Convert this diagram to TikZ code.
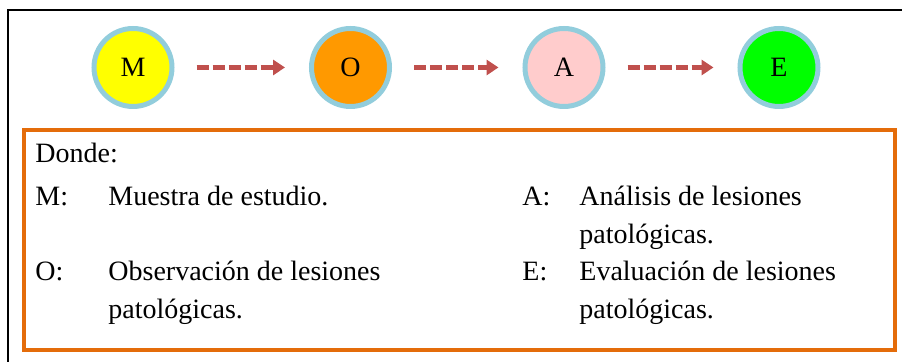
\documentclass[tikz,border=0pt]{standalone}
\usepackage{fontspec}
\setmainfont{Liberation Serif}
\usetikzlibrary{arrows.meta}
\definecolor{ringblue}{RGB}{146,205,220}
\definecolor{arrowred}{RGB}{192,80,77}
\definecolor{boxorange}{RGB}{228,108,10}
\definecolor{fillM}{RGB}{255,255,0}
\definecolor{fillO}{RGB}{255,153,0}
\definecolor{fillA}{RGB}{255,204,204}
\definecolor{fillE}{RGB}{0,255,0}
\tikzset{
  stage/.style={circle, draw=ringblue, line width=2.5pt, minimum size=39pt,
    inner sep=0pt, font=\fontsize{14}{17}\selectfont},
  flow/.style={arrowred, line width=2.5pt, dash pattern=on 6pt off 2pt,
    -{Triangle[length=6pt,width=7.5pt]}, shorten <=11pt, shorten >=12pt},
  entry/.style={anchor=base west, inner sep=0pt, font=\fontsize{14}{17}\selectfont},
}
\begin{document}
\begin{tikzpicture}[x=0.5pt,y=-0.5pt]
    \useasboundingbox (0,0) rectangle (902,362);
    % frame of the page
    \draw[line width=1pt] (8,362) -- (8,10) -- (902,10);
    % the four stages
    \node[stage, fill=fillM] (m) at (133,67.5) {M};
    \node[stage, fill=fillO] (o) at (350.5,67.5) {O};
    \node[stage, fill=fillA] (a) at (564,67.5) {A};
    \node[stage, fill=fillE] (e) at (779,67.5) {E};
    \draw[flow] (m) -- (o);
    \draw[flow] (o) -- (a);
    \draw[flow] (a) -- (e);
    % legend
    \draw[boxorange, line width=1.75pt] (24,130) rectangle (895,350);
    \node[entry] (donde) at (35,163) {Donde:};
    \node[entry] (keyM) at (35,206) {M:};
    \node[entry] (txtM) at (108,206) {Muestra de estudio.};
    \node[entry] (keyO) at (35,281) {O:};
    \node[entry] (txtO) at (108,281) {Observación de lesiones};
    \node[entry] (txtO2) at ([yshift=-18.75pt]txtO.base west) {patológicas.};
    \node[entry] (keyA) at (522,206) {A:};
    \node[entry] (txtA) at (579,206) {Análisis de lesiones};
    \node[entry] (txtA2) at ([yshift=-18.75pt]txtA.base west) {patológicas.};
    \node[entry] (keyE) at (522,281) {E:};
    \node[entry] (txtE) at (579,281) {Evaluación de lesiones};
    \node[entry] (txtE2) at ([yshift=-18.75pt]txtE.base west) {patológicas.};
\end{tikzpicture}
\end{document}
